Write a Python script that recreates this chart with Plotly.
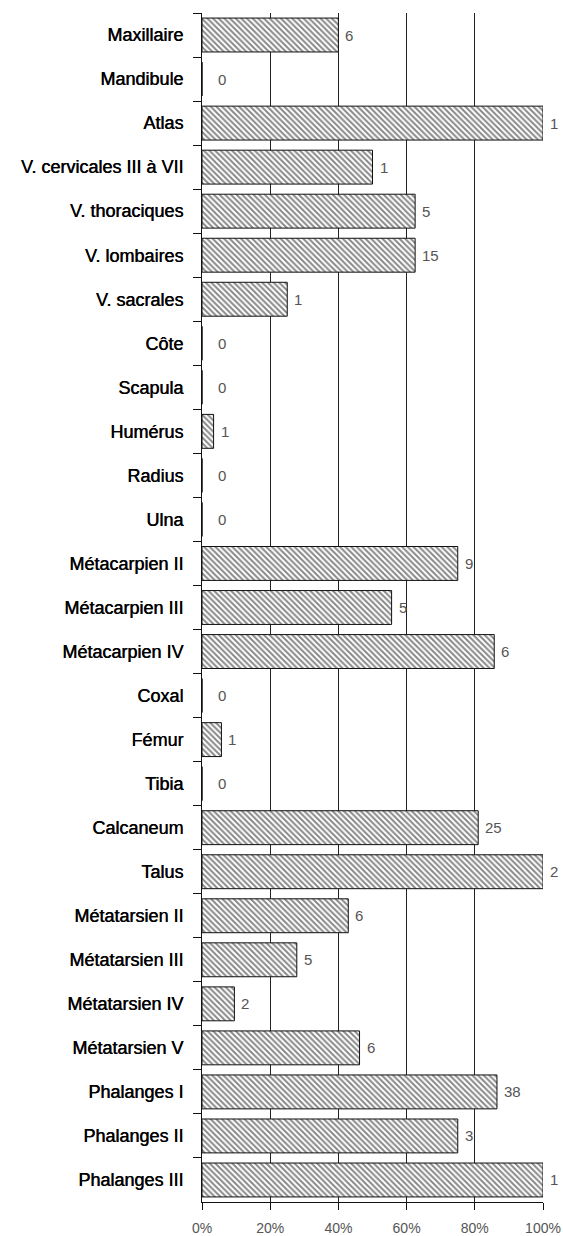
import plotly.graph_objects as go

# Skeletal elements (top to bottom)
elements = [
    "Maxillaire", "Mandibule", "Atlas", "V. cervicales III à VII",
    "V. thoraciques", "V. lombaires", "V. sacrales", "Côte", "Scapula",
    "Humérus", "Radius", "Ulna", "Métacarpien II", "Métacarpien III",
    "Métacarpien IV", "Coxal", "Fémur", "Tibia", "Calcaneum", "Talus",
    "Métatarsien II", "Métatarsien III", "Métatarsien IV", "Métatarsien V",
    "Phalanges I", "Phalanges II", "Phalanges III",
]

# Share of each element (%)
percent = [
    40, 0, 100, 50,
    62.5, 62.5, 25, 0, 0,
    3.4, 0, 0, 75, 55.6,
    85.7, 0, 5.7, 0, 81, 100,
    42.9, 27.8, 9.5, 46.2,
    86.5, 75, 100,
]

# Number of remains for each element
counts = [
    6, 0, 1, 1,
    5, 15, 1, 0, 0,
    1, 0, 0, 9, 5,
    6, 0, 1, 0, 25, 2,
    6, 5, 2, 6,
    38, 3, 1,
]

x_ticks = [0, 20, 40, 60, 80, 100]
x_tick_labels = ["0%", "20%", "40%", "60%", "80%", "100%"]

fig = go.Figure()

fig.add_trace(go.Bar(
    x=percent,
    y=elements,
    orientation="h",
    marker=dict(
        color="white",
        line=dict(color="#111111", width=1),
        pattern=dict(shape="\\", fgcolor="#111111", bgcolor="white",
                     size=4, solidity=0.5),
    ),
    hoverinfo="skip",
))

# Count labels next to each bar
for name, pct, n in zip(elements, percent, counts):
    fig.add_annotation(
        x=pct, y=name, text=str(n),
        xanchor="left", yanchor="middle",
        xshift=5 if pct > 0 else 14,
        showarrow=False,
        font=dict(family="Liberation Sans, Arial", size=15, color="#555555"),
    )

fig.update_layout(
    width=563, height=1236,
    margin=dict(l=202, r=20, t=13, b=34),
    paper_bgcolor="white",
    plot_bgcolor="white",
    bargap=0.23,
    showlegend=False,
)

fig.update_xaxes(
    range=[0, 100],
    automargin=False,
    tickvals=x_ticks,
    ticktext=x_tick_labels,
    ticks="outside", ticklen=7, tickcolor="#111111",
    ticklabelstandoff=6,
    showgrid=True, gridcolor="#222222", gridwidth=1,
    showline=True, linecolor="#111111", linewidth=1,
    zeroline=False,
    tickfont=dict(family="Liberation Sans, Arial", size=14, color="#555555"),
)

fig.update_yaxes(
    categoryorder="array", categoryarray=elements,
    autorange="reversed",
    automargin=False,
    tickson="boundaries",
    ticks="outside", ticklen=8, tickcolor="#111111", tickwidth=1,
    ticklabelstandoff=14,
    showgrid=False,
    showline=True, linecolor="#111111", linewidth=1,
    tickfont=dict(family="Liberation Sans, Arial", size=18, color="#000000",
                  shadow="0.35px 0 0 #000000"),
)

fig.write_html("out.html")
